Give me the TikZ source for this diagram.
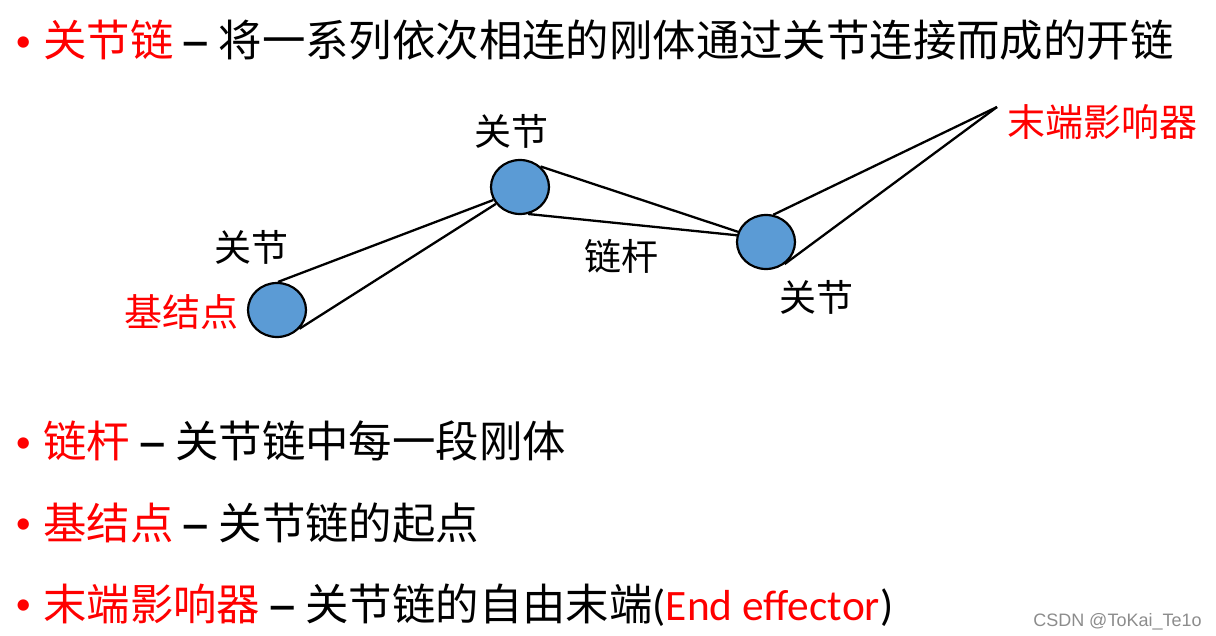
\documentclass[tikz,border=0pt]{standalone}
\usepackage{fontspec}
\usepackage{graphicx}
\setmainfont{Carlito}
\newfontfamily\cjk{Noto Sans CJK SC}
\newfontfamily\markfont{Liberation Sans}
\usetikzlibrary{positioning,shapes.geometric}
\definecolor{jointc}{HTML}{5B9BD5}
\definecolor{keyc}{HTML}{FF0000}
\definecolor{markc}{HTML}{8C8C8C}
\newcommand{\kw}[1]{\textcolor{keyc}{\cjk #1}}
\newcommand{\zh}[1]{{\cjk #1}}
\newcommand{\dotitem}{\textcolor{keyc}{\raisebox{2.6pt}{\fontsize{16pt}{16pt}\selectfont\textbullet}}\hspace{6pt}}
\newcommand{\sep}{\hspace{3.2pt}\scalebox{1.5}[1]{\textbf{–}}\hspace{3.2pt}}
\tikzset{
  joint/.style={ellipse, draw=black, line width=1.1pt, fill=jointc,
              minimum width=29pt, minimum height=27pt, inner sep=0pt},
  link/.style={line width=1.15pt},
  lbl/.style={inner sep=0pt, font=\cjk\fontsize{18.5pt}{22pt}\selectfont},
  keylbl/.style={inner sep=0pt, text=keyc,
              font=\cjk\fontsize{19pt}{22pt}\selectfont},
  itemline/.style={anchor=base west, inner sep=0pt,
              font=\fontsize{21.7pt}{26pt}\selectfont},
}
\begin{document}
\begin{tikzpicture}[x=0.5pt, y=-0.5pt]
\useasboundingbox (0,0) rectangle (1216,636);
% definition line
\node[itemline] (def) at (15,57)
  {\dotitem\kw{关节链}\sep\zh{将一系列依次相连的刚体通过关节连接而成的开链}};

% the chain
\node[joint] (base) at (277,310) {};
\node[joint] (j2) at (520,187) {};
\node[joint] (j3) at (766,242) {};
\coordinate (tip) at (997,107);

\draw[link] (base.88) -- (j2.206);
\draw[link] (base.-40) -- (j2.215);
\draw[link] (j2.45) -- (j3.160);
\draw[link] (j2.287) -- (j3.167);
\draw[link] (j3.75) -- (tip);
\draw[link] (j3.310) -- (tip);

\node[lbl] (lbase) at (251,247) {关节};
\node[keylbl] (kbase) at (181,312) {基结点};
\node[lbl] (lj2) at (511,131) {关节};
\node[lbl] (lrod) at (621,256) {链杆};
\node[lbl] (lj3) at (816,297) {关节};
\node[keylbl] (ktip) at (1102,122) {末端影响器};

% terms
\node[itemline] (rod) at (15,458)
  {\dotitem\kw{链杆}\sep\zh{关节链中每一段刚体}};
\node[itemline] (root) at (15,539)
  {\dotitem\kw{基结点}\sep\zh{关节链的起点}};
\node[itemline] (eff) at (15,620)
  {\dotitem\kw{末端影响器}\sep\zh{关节链的自由末端}(\textcolor{keyc}{End effector})};

\node[anchor=base east, inner sep=0pt, text=markc,
      font=\markfont\fontsize{9pt}{11pt}\selectfont] (mark) at (1202,626)
  {CSDN @ToKai\_Te1o};
\end{tikzpicture}
\end{document}
